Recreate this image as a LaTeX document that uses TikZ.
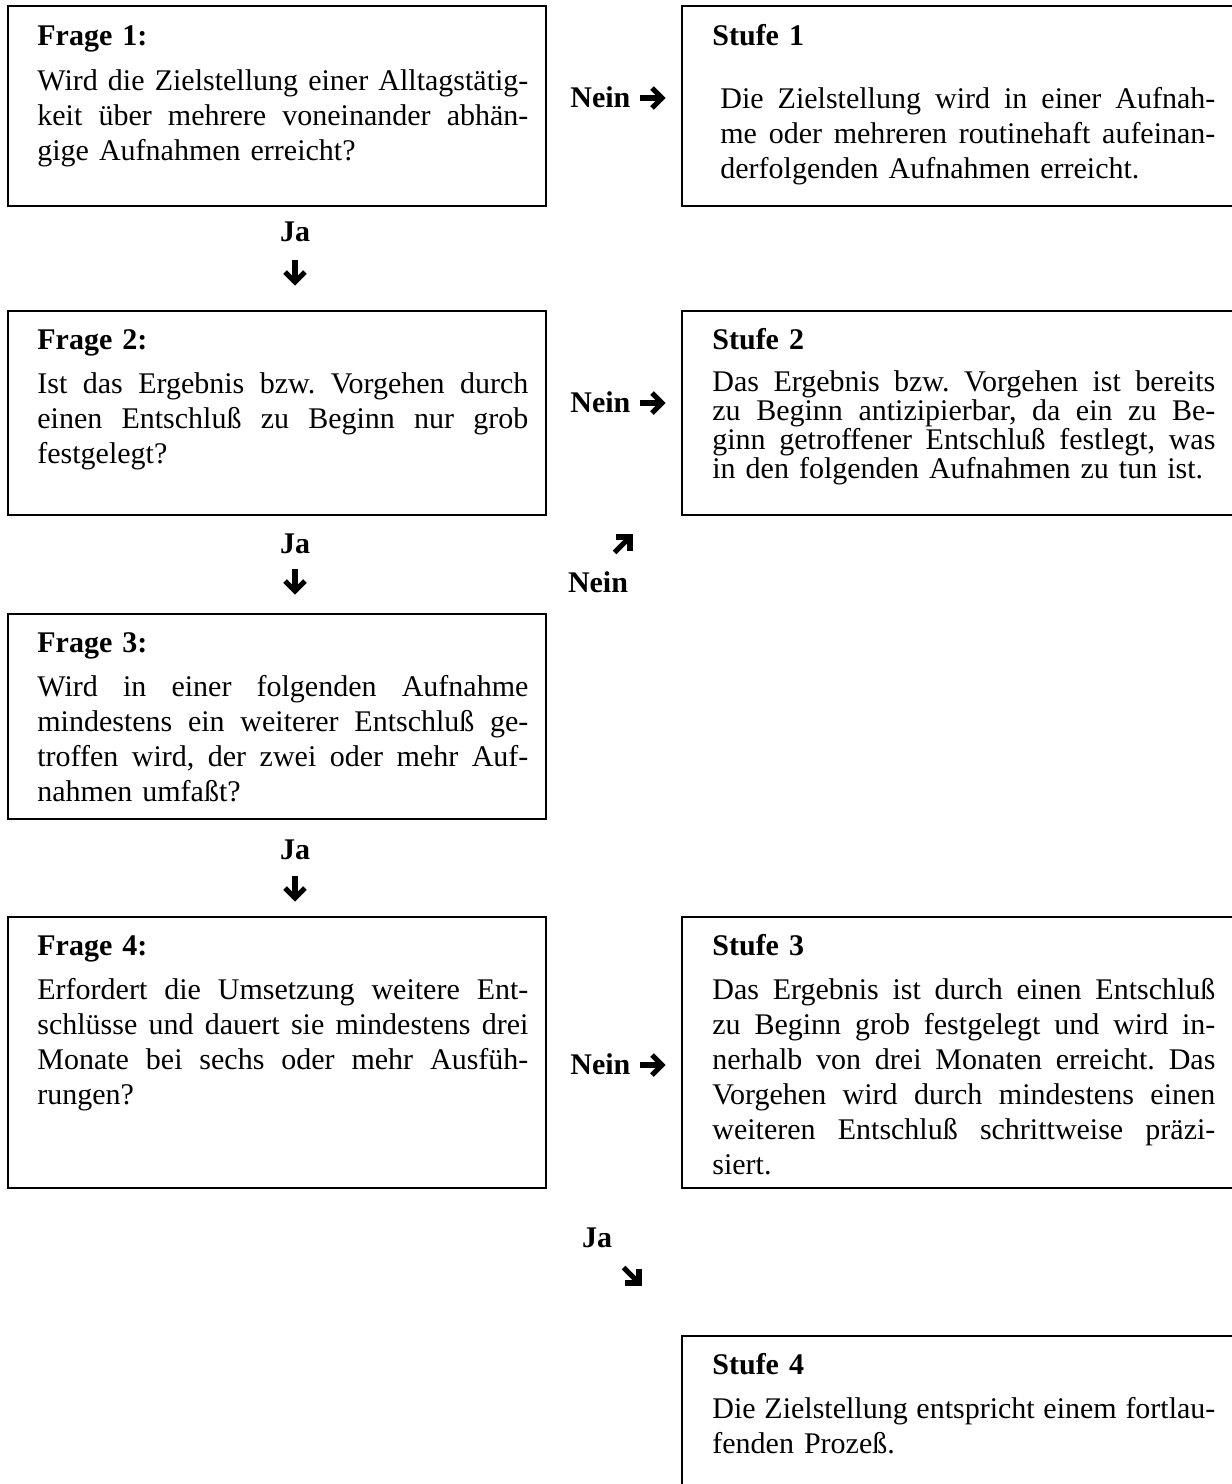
\documentclass[tikz,border=0pt]{standalone}
\usepackage{fontspec}
\setmainfont{Liberation Serif}
\frenchspacing
\newcommand\jl[2]{\makebox[#1][s]{\spaceskip=0pt\xspaceskip=0pt #2}\\}
\begin{document}
\begin{tikzpicture}[x=0.5pt,y=-0.5pt,
  box/.style={draw,line width=1pt,inner sep=0pt,anchor=north west},
  txt/.style={inner sep=0pt,anchor=north west,align=left,font=\fontsize{15pt}{17.5pt}\selectfont},
  lbl/.style={inner sep=0pt,font=\fontsize{15pt}{17pt}\selectfont\bfseries},
  harr/.pic={
    \draw[line width=2.6pt,line cap=butt] (-12,0) -- (8,0);
    \draw[line width=2.6pt,line join=miter,line cap=butt] (0,-10) -- (10,0) -- (0,10);
  }]
\useasboundingbox (0,0) rectangle (1232,1484);
% boxes
\node[box,minimum width=269pt,minimum height=100pt] (f1) at (7,5) {};
\node[box,minimum width=280pt,minimum height=100pt] (s1) at (681,5) {};
\node[box,minimum width=269pt,minimum height=102pt] (f2) at (7,310) {};
\node[box,minimum width=280pt,minimum height=102pt] (s2) at (681,310) {};
\node[box,minimum width=269pt,minimum height=102.5pt] (f3) at (7,613) {};
\node[box,minimum width=269pt,minimum height=135.5pt] (f4) at (7,916) {};
\node[box,minimum width=280pt,minimum height=135.5pt] (s3) at (681,916) {};
\node[box,minimum width=280pt,minimum height=90pt] (s4) at (681,1335) {};
% texts
\node[txt,text width=245.5pt] (f1t) at (37,21) {\strut\textbf{Frage 1:}\\[5pt]
\jl{245.5pt}{Wird die Zielstellung einer Alltagstätig-}
\jl{245.5pt}{keit über mehrere voneinander abhän-}
gige Aufnahmen erreicht?};
\node[txt,text width=251.5pt] (s1t) at (712,21) {\strut\textbf{Stufe 1}\\[14pt]
\hspace*{4pt}\jl{247.5pt}{Die Zielstellung wird in einer Aufnah-}
\hspace*{4pt}\jl{247.5pt}{me oder mehreren routinehaft aufeinan-}
\hspace*{4pt}derfolgenden Aufnahmen erreicht.};
\node[txt,text width=245.5pt] (f2t) at (37,324.5) {\strut\textbf{Frage 2:}\\[4.5pt]
\jl{245.5pt}{Ist das Ergebnis bzw. Vorgehen durch}
\jl{245.5pt}{einen Entschluß zu Beginn nur grob}
festgelegt?};
\node[txt,text width=251.5pt] (s2t) at (712,324.5) {\strut\textbf{Stufe 2}\\[4.5pt]
{\fontsize{15pt}{14.5pt}\selectfont
\jl{251.5pt}{Das Ergebnis bzw. Vorgehen ist bereits}
\jl{251.5pt}{zu Beginn antizipierbar, da ein zu Be-}
\jl{251.5pt}{ginn getroffener Entschluß festlegt, was}
in den folgenden Aufnahmen zu tun ist.\par}};
\node[txt,text width=245.5pt] (f3t) at (37,627.5) {\strut\textbf{Frage 3:}\\[4.5pt]
\jl{245.5pt}{Wird in einer folgenden Aufnahme}
\jl{245.5pt}{mindestens ein weiterer Entschluß ge-}
\jl{245.5pt}{troffen wird, der zwei oder mehr Auf-}
nahmen umfaßt?};
\node[txt,text width=245.5pt] (f4t) at (37,930.5) {\strut\textbf{Frage 4:}\\[4.5pt]
\jl{245.5pt}{Erfordert die Umsetzung weitere Ent-}
\jl{245.5pt}{schlüsse und dauert sie mindestens drei}
\jl{245.5pt}{Monate bei sechs oder mehr Ausfüh-}
rungen?};
\node[txt,text width=251.5pt] (s3t) at (712,930.5) {\strut\textbf{Stufe 3}\\[4.5pt]
\jl{251.5pt}{Das Ergebnis ist durch einen Entschluß}
\jl{251.5pt}{zu Beginn grob festgelegt und wird in-}
\jl{251.5pt}{nerhalb von drei Monaten erreicht. Das}
\jl{251.5pt}{Vorgehen wird durch mindestens einen}
\jl{251.5pt}{weiteren Entschluß schrittweise präzi-}
siert.};
\node[txt,text width=251.5pt] (s4t) at (712,1349.5) {\strut\textbf{Stufe 4}\\[4.5pt]
\jl{251.5pt}{Die Zielstellung entspricht einem fortlau-}
fenden Prozeß.};
% labels
\node[lbl,anchor=west] (n1) at (570,97) {Nein};
\node[lbl,anchor=west] (n2) at (570,402) {Nein};
\node[lbl,anchor=west] (n4) at (570,1064) {Nein};
\node[lbl] (j1) at (295,232) {Ja};
\node[lbl] (j2) at (295,544) {Ja};
\node[lbl] (j3) at (295,850) {Ja};
\node[lbl] (n3) at (598,582) {Nein};
\node[lbl] (j4) at (597,1238) {Ja};
% arrow symbols
\pic (a1) at (652,98) {harr};
\pic (a2) at (652,403) {harr};
\pic (a4) at (652,1065) {harr};
\pic[rotate=-90] (d1) at (295,272) {harr};
\pic[rotate=-90] (d2) at (295,581) {harr};
\pic[rotate=-90] (d3) at (295,888) {harr};
\pic[rotate=45] (ne) at (623,544) {harr};
\pic[rotate=-45] (se) at (632,1276) {harr};
\end{tikzpicture}
\end{document}
